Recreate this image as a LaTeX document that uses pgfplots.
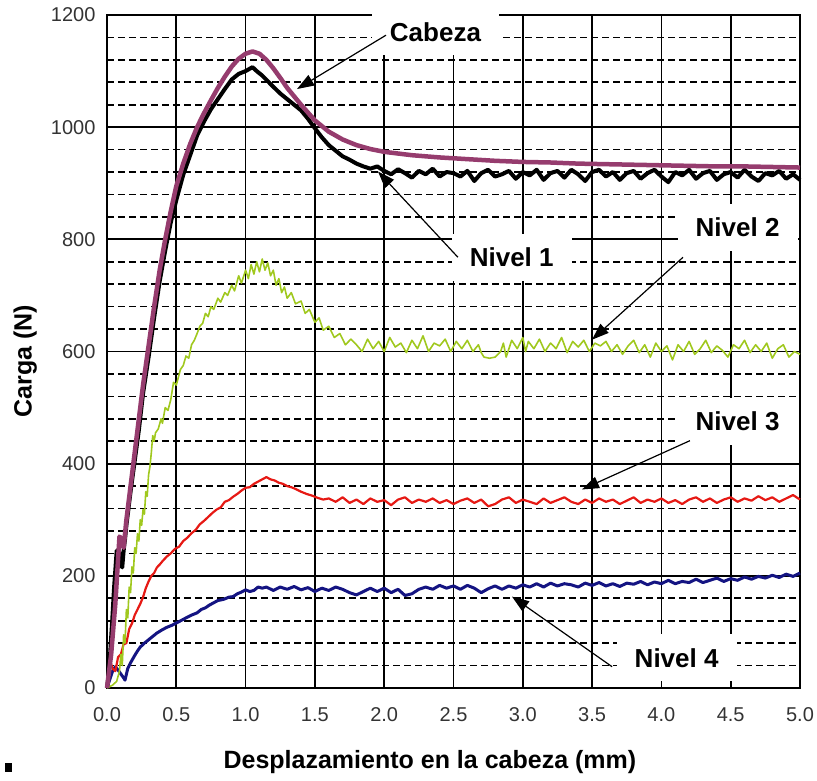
\documentclass[border=0pt]{standalone}
\usepackage{fontspec}
\setmainfont{Liberation Sans}
\usepackage{pgfplots}
\pgfplotsset{compat=1.18}
\usetikzlibrary{arrows.meta}
\definecolor{cabeza}{RGB}{150,60,110}
\definecolor{nivdos}{RGB}{160,200,30}
\definecolor{nivtres}{RGB}{230,25,20}
\definecolor{nivcuatro}{RGB}{20,20,130}
\begin{document}
\begin{tikzpicture}
\path[use as bounding box] (-107pt,-92pt) rectangle (710pt,688pt);
\begin{axis}[
  at={(0pt,0pt)}, anchor=south west,
  scale only axis, width=693pt, height=673pt,
  xmin=0, xmax=5, ymin=0, ymax=1200,
  xtick={0,0.5,1,1.5,2,2.5,3,3.5,4,4.5,5},
  ytick={0,200,400,600,800,1000,1200},
  minor y tick num=4,
  xticklabel style={/pgf/number format/fixed, /pgf/number format/fixed zerofill, /pgf/number format/precision=1, yshift=-16pt},
  yticklabel style={/pgf/number format/1000 sep={}, xshift=-8pt},
  /pgf/number format/assume math mode=true,
  ticklabel style={font=\fontsize{20}{24}\selectfont, text=black!80},
  major tick length=0pt, minor tick length=0pt,
  grid=both,
  major grid style={black, line width=1.7pt},
  minor grid style={black, line width=1.6pt, dash pattern=on 7pt off 4pt},
  axis line style={black, line width=1.7pt},
  clip=false,
  xlabel={Desplazamiento en la cabeza (mm)},
  ylabel={Carga (N)},
  label style={font=\bfseries\fontsize{25}{30}\selectfont},
  xlabel style={at={(axis description cs:0.466,-0.110)}, anchor=center},
  ylabel style={at={(axis description cs:-0.118,0.486)}, anchor=center},
  every axis plot/.append style={no markers, line join=round},
]
% Nivel 4
\addplot[color=nivcuatro, line width=3pt] coordinates {
(0,0) (0.02,15) (0.04,30) (0.06,38) (0.08,32) (0.1,25) (0.12,18) (0.13,14) (0.15,35) (0.17,45) (0.2,58) (0.22,66) (0.24,73) (0.27,80) (0.3,86) (0.33,92) (0.36,98) (0.4,104) (0.43,108) (0.47,112) (0.5,116) (0.54,121) (0.57,125) (0.61,130) (0.65,134) (0.68,140) (0.71,143) (0.74,148) (0.77,152) (0.8,156) (0.84,158) (0.88,162) (0.91,163) (0.94,168) (0.97,171) (1.0,175) (1.03,172) (1.06,174) (1.09,180) (1.12,178)
(1.15,180) (1.20,174) (1.25,180) (1.30,176) (1.35,181) (1.40,175) (1.45,179) (1.50,172) (1.55,178) (1.60,174) (1.65,180) (1.70,176) (1.75,170) (1.80,166) (1.85,172) (1.90,178) (1.95,172) (2.00,178) (2.05,170) (2.10,176) (2.15,165) (2.20,168) (2.25,176) (2.30,180) (2.35,176) (2.40,183) (2.45,178) (2.50,182) (2.55,176) (2.60,183) (2.65,178) (2.70,170) (2.75,177) (2.80,182) (2.85,176) (2.90,182) (2.95,178) (3.00,184) (3.05,180) (3.10,186) (3.15,180) (3.20,187) (3.25,182) (3.30,186) (3.35,184) (3.40,180) (3.45,187) (3.50,183) (3.55,188) (3.60,182) (3.65,186) (3.70,181) (3.75,187) (3.80,185) (3.85,190) (3.90,184) (3.95,189) (4.00,186) (4.05,192) (4.10,186) (4.15,190) (4.20,188) (4.25,194) (4.30,188) (4.35,192) (4.40,196) (4.45,190) (4.50,195) (4.55,192) (4.60,198) (4.65,194) (4.70,199) (4.75,196) (4.80,201) (4.85,197) (4.90,203) (4.95,199) (5.00,205)
};
% Nivel 3
\addplot[color=nivtres, line width=2.2pt] coordinates {
(0,0) (0.02,50) (0.04,35) (0.06,30) (0.08,55) (0.1,60) (0.12,78) (0.14,80) (0.16,105) (0.18,115) (0.2,130) (0.22,140) (0.24,150) (0.26,162) (0.28,178) (0.3,190) (0.32,200) (0.34,205) (0.36,215) (0.38,220) (0.4,226) (0.43,234) (0.46,240) (0.49,248) (0.52,252) (0.55,262) (0.58,268) (0.61,276) (0.64,282) (0.67,292) (0.7,298) (0.73,305) (0.76,312) (0.79,318) (0.82,322) (0.85,332) (0.88,335) (0.91,341) (0.94,346) (0.97,352) (1.0,357) (1.03,358) (1.06,364) (1.09,368) (1.12,372) (1.15,376) (1.18,372) (1.21,370) (1.24,366) (1.27,364) (1.3,360) (1.33,358) (1.36,355) (1.4,350) (1.44,346) (1.48,343) (1.52,339) (1.56,336)
(1.60,338) (1.65,332) (1.70,340) (1.75,330) (1.80,336) (1.85,328) (1.90,338) (1.95,332) (2.00,335) (2.05,326) (2.10,336) (2.15,340) (2.20,330) (2.25,336) (2.30,332) (2.35,338) (2.40,330) (2.45,335) (2.50,328) (2.55,334) (2.60,338) (2.65,330) (2.70,336) (2.75,324) (2.80,328) (2.85,336) (2.90,340) (2.95,330) (3.00,336) (3.05,332) (3.10,328) (3.15,338) (3.20,330) (3.25,335) (3.30,340) (3.35,332) (3.40,328) (3.45,336) (3.50,330) (3.55,338) (3.60,332) (3.65,336) (3.70,328) (3.75,334) (3.80,340) (3.85,330) (3.90,336) (3.95,332) (4.00,338) (4.05,330) (4.10,335) (4.15,328) (4.20,336) (4.25,340) (4.30,332) (4.35,338) (4.40,330) (4.45,336) (4.50,340) (4.55,332) (4.60,338) (4.65,334) (4.70,342) (4.75,335) (4.80,340) (4.85,332) (4.90,338) (4.95,344) (5.00,336)
};
% Nivel 2
\addplot[color=nivdos, line width=1.6pt] coordinates {
(0,0) (0.04,5) (0.07,12) (0.09,30) (0.1,60) (0.11,40) (0.12,95) (0.13,80) (0.14,140) (0.15,125) (0.16,180) (0.17,170) (0.18,216) (0.19,205) (0.2,250) (0.21,240) (0.22,275) (0.23,262) (0.24,300) (0.25,290) (0.26,318) (0.27,310) (0.28,350) (0.29,342) (0.3,380) (0.31,395) (0.32,420) (0.33,450) (0.34,440) (0.35,455) (0.37,462) (0.39,480) (0.4,472) (0.42,500) (0.44,495) (0.46,514) (0.48,545) (0.5,540) (0.53,568) (0.55,575) (0.57,592) (0.59,588) (0.61,612) (0.63,620) (0.65,632) (0.67,645) (0.69,650) (0.71,668) (0.73,662) (0.75,680) (0.77,675) (0.8,695) (0.82,688) (0.85,705) (0.87,700) (0.9,718) (0.92,708) (0.95,735) (0.97,722) (1.0,745) (1.02,730) (1.04,755) (1.06,738) (1.08,760) (1.1,742) (1.12,765) (1.14,745) (1.16,758) (1.18,735) (1.2,745) (1.22,718) (1.24,730) (1.26,705) (1.28,715) (1.3,695) (1.33,705) (1.36,685) (1.4,690) (1.43,668) (1.46,675) (1.5,652) (1.53,660) (1.56,638) (1.6,645) (1.64,625) (1.68,632) (1.72,612) (1.76,622)
(1.80,612) (1.84,600) (1.88,622) (1.92,605) (1.96,618) (2.00,600) (2.04,625) (2.08,608) (2.12,615) (2.16,598) (2.20,620) (2.24,605) (2.28,628) (2.32,600) (2.36,615) (2.40,610) (2.44,622) (2.48,600) (2.52,618) (2.56,605) (2.60,620) (2.64,600) (2.68,612) (2.70,598) (2.72,590) (2.76,588) (2.80,590) (2.84,600) (2.86,615) (2.88,590) (2.92,620) (2.96,605) (3.00,625) (3.02,600) (3.04,618) (3.08,605) (3.12,622) (3.16,600) (3.20,615) (3.24,605) (3.28,625) (3.32,598) (3.36,618) (3.40,608) (3.44,620) (3.48,600) (3.52,615) (3.56,610) (3.60,618) (3.64,600) (3.68,612) (3.72,595) (3.76,610) (3.80,620) (3.84,598) (3.88,612) (3.92,590) (3.96,615) (4.00,600) (4.04,610) (4.08,585) (4.12,612) (4.16,600) (4.20,618) (4.24,595) (4.28,605) (4.32,620) (4.36,598) (4.40,610) (4.44,602) (4.48,590) (4.52,612) (4.56,605) (4.60,620) (4.64,598) (4.68,612) (4.72,600) (4.76,615) (4.80,588) (4.84,605) (4.88,612) (4.92,590) (4.96,600) (5.00,595)
};
% Nivel 1
\addplot[color=black, line width=4pt] coordinates {
(0,0) (0.01,20) (0.02,50) (0.03,90) (0.04,130) (0.05,175) (0.06,210) (0.07,245) (0.08,240) (0.09,242) (0.1,220) (0.11,215) (0.12,245) (0.13,265) (0.14,290) (0.15,310) (0.17,350) (0.2,405) (0.23,460) (0.26,525) (0.3,590) (0.34,660) (0.38,725) (0.42,780) (0.46,830) (0.5,870) (0.55,915) (0.6,950) (0.65,985) (0.7,1010) (0.75,1032) (0.8,1050) (0.85,1068) (0.9,1085) (0.95,1095) (1.0,1100) (1.05,1107) (1.08,1100) (1.12,1092) (1.16,1082) (1.2,1072) (1.25,1060) (1.3,1050) (1.35,1040) (1.4,1030) (1.45,1015) (1.5,998) (1.55,982) (1.6,968) (1.65,958) (1.7,948) (1.75,942) (1.8,935) (1.85,930) (1.9,926) (1.95,930)
(2.00,922) (2.05,916) (2.10,925) (2.15,918) (2.20,910) (2.25,922) (2.30,916) (2.35,926) (2.40,912) (2.45,920) (2.50,918) (2.55,912) (2.60,922) (2.65,904) (2.70,918) (2.75,924) (2.80,912) (2.85,916) (2.90,922) (2.95,908) (3.00,920) (3.05,914) (3.10,924) (3.15,906) (3.20,918) (3.25,922) (3.30,910) (3.35,924) (3.40,916) (3.45,904) (3.50,920) (3.55,924) (3.60,912) (3.65,920) (3.70,906) (3.75,918) (3.80,922) (3.85,908) (3.90,918) (3.95,924) (4.00,912) (4.05,902) (4.10,920) (4.15,914) (4.20,924) (4.25,908) (4.30,918) (4.35,922) (4.40,906) (4.45,916) (4.50,920) (4.55,910) (4.60,924) (4.65,912) (4.70,904) (4.75,918) (4.80,914) (4.85,922) (4.90,908) (4.95,916) (5.00,906)
};
% Cabeza
\addplot[color=cabeza, line width=4.5pt] coordinates {
(0,0) (0.03,60) (0.06,150) (0.08,230) (0.09,270) (0.11,265) (0.12,250) (0.14,300) (0.17,360) (0.2,420) (0.23,480) (0.26,540) (0.3,610) (0.34,680) (0.38,745) (0.42,800) (0.46,850) (0.5,895) (0.55,935) (0.6,970) (0.65,1000) (0.7,1025) (0.75,1048) (0.8,1070) (0.85,1090) (0.9,1108) (0.95,1122) (1.0,1131) (1.05,1135) (1.1,1131) (1.15,1120) (1.2,1105) (1.25,1088) (1.3,1070) (1.35,1055) (1.4,1040) (1.5,1012) (1.6,992) (1.7,978) (1.8,968) (1.9,961) (2.0,956) (2.2,950) (2.4,946) (2.6,943) (2.8,940) (3.0,938) (3.2,937) (3.4,935) (3.6,934) (3.8,933) (4.0,932) (4.2,931) (4.4,930) (4.6,930) (4.8,929) (5.0,928)
};
\coordinate (lc) at (axis cs:2.37,1170);
\coordinate (l1) at (axis cs:2.92,768);
\coordinate (l2) at (axis cs:4.55,821);
\coordinate (l3) at (axis cs:4.55,475);
\coordinate (l4) at (axis cs:4.11,54);
\coordinate (ac0) at (axis cs:2.013,1164);
\coordinate (ac1) at (axis cs:1.371,1068);
\coordinate (a10) at (axis cs:2.532,768);
\coordinate (a11) at (axis cs:1.955,921);
\coordinate (a20) at (axis cs:4.156,768);
\coordinate (a21) at (axis cs:3.499,621);
\coordinate (a30) at (axis cs:4.206,441);
\coordinate (a31) at (axis cs:3.427,354);
\coordinate (a40) at (axis cs:3.644,38);
\coordinate (a41) at (axis cs:2.922,163);
\end{axis}
\tikzset{lab/.style={fill=white, inner xsep=18pt, inner ysep=14pt, font=\bfseries\fontsize{26}{30}\selectfont}}
\node[lab] at (lc) {Cabeza};
\node[lab] at (l1) {Nivel 1};
\node[lab] at (l2) {Nivel 2};
\node[lab] at (l3) {Nivel 3};
\node[lab] at (l4) {Nivel 4};
\tikzset{arr/.style={line width=1.2pt, -{Triangle[length=17pt,width=12pt]}}}
\draw[arr] (ac0) -- (ac1);
\draw[arr] (a10) -- (a11);
\draw[arr] (a20) -- (a21);
\draw[arr] (a30) -- (a31);
\draw[arr] (a40) -- (a41);
\fill[black] (-102pt,-84pt) rectangle (-95pt,-75pt);
\end{tikzpicture}
\end{document}
